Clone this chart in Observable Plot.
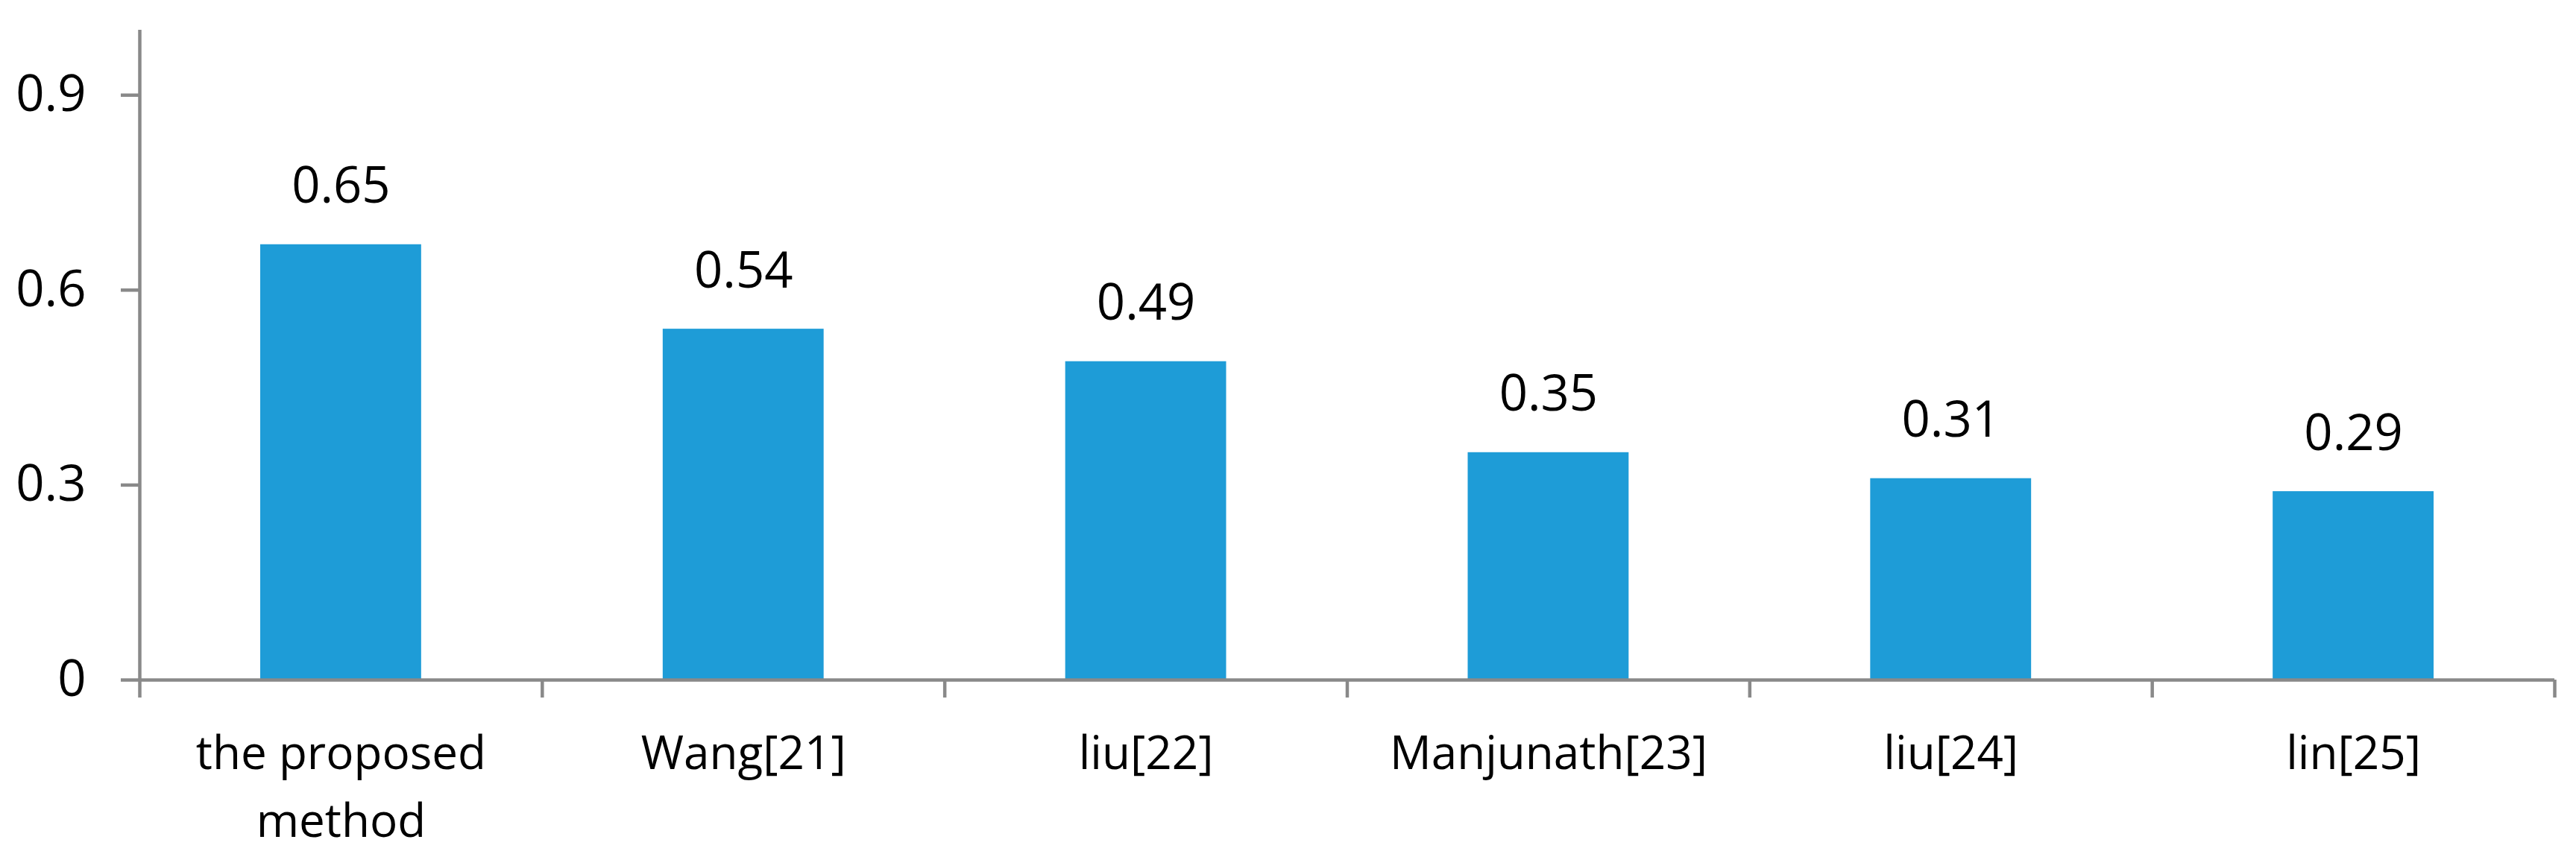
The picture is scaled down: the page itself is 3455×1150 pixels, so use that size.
<!DOCTYPE html>
<html><head><meta charset="utf-8">
<script src="https://cdn.jsdelivr.net/npm/d3@7"></script>
<script src="https://cdn.jsdelivr.net/npm/@observablehq/plot@0.6"></script>
<style>html,body{margin:0;padding:0;background:#fff;}</style>
</head><body><div id="chart"></div>
<script>
const categories = ["the proposed method", "Wang[21]", "liu[22]", "Manjunath[23]", "liu[24]", "lin[25]"];
const barValues = [0.67, 0.54, 0.49, 0.35, 0.31, 0.29];
const valueLabels = ["0.65", "0.54", "0.49", "0.35", "0.31", "0.29"];
const yTicks = [0, 0.3, 0.6, 0.9];
const yDomain = [0, 1];

const data = categories.map((name, i) => ({i, name, value: barValues[i], label: valueLabels[i]}));
const boundaries = d3.range(categories.length + 1);

const axisColor = "#898989";
const chart = Plot.plot({
  width: 3455, height: 1150,
  marginLeft: 187, marginRight: 29, marginTop: 40, marginBottom: 238,
  style: {fontFamily: "'Open Sans', sans-serif", background: "#fff", color: "#000"},
  x: {domain: [0, categories.length], axis: null},
  y: {domain: yDomain, axis: null},
  marks: [
    Plot.rectY(data, {x1: "i", x2: d => d.i + 1, y: "value", fill: "#1E9CD7", insetLeft: 162, insetRight: 162}),
    Plot.ruleY([0], {stroke: axisColor, strokeWidth: 4.5}),
    Plot.ruleX([0], {y1: yDomain[0], y2: yDomain[1], stroke: axisColor, strokeWidth: 4.5}),
    Plot.axisX(boundaries, {tickSize: 24, tickFormat: () => "", stroke: axisColor, strokeWidth: 4.5, label: null}),
    Plot.axisY(yTicks, {tickSize: 25, tickPadding: 47, tickFormat: d => String(d), fontSize: 67, stroke: axisColor, strokeWidth: 4.5, fill: "#000", label: null}),
    Plot.text(data, {x: d => d.i + 0.5, y: "value", text: "label", dy: -56, lineAnchor: "bottom", fontSize: 67, fill: "#000"}),
    Plot.text(data, {x: d => d.i + 0.5, y: 0, text: "name", lineAnchor: "top", dy: 55, fontSize: 62, lineWidth: 8, lineHeight: 1.47, fill: "#000"})
  ]
});
document.getElementById("chart").appendChild(chart);
</script>
</body></html>
